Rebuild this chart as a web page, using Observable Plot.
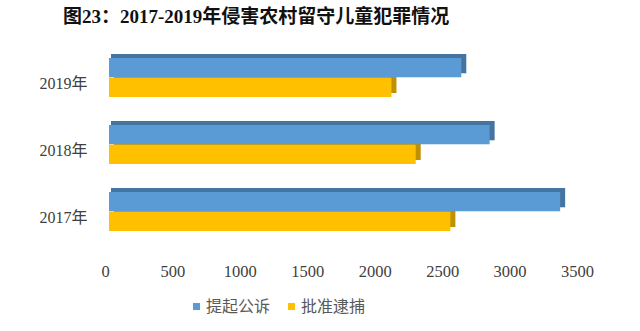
<!DOCTYPE html>
<html>
<head>
<meta charset="utf-8">
<script src="https://cdn.jsdelivr.net/npm/d3@7"></script>
<script src="https://cdn.jsdelivr.net/npm/@observablehq/plot@0.6"></script>
<style>
  html, body { margin: 0; padding: 0; background: #fff; }
  #wrap { width: 640px; height: 331px; position: relative; overflow: hidden; }
  #title { height: 36px; line-height: 34px; padding-left: 63px; font-family: "Liberation Serif", "Noto Sans CJK SC", serif; font-weight: bold; font-size: 19px; color: #111; white-space: nowrap; }
  #legend { position: absolute; top: 297px; left: 0; width: 640px; text-align: left; font-family: "Liberation Serif", "Noto Sans CJK SC", serif; font-size: 16px; color: #595959; }
  .item { position: absolute; top: 0; white-space: nowrap; line-height: 20px; }
  .sw { display: inline-block; width: 7px; height: 7px; margin-right: 6px; vertical-align: 2px; }
</style>
</head>
<body>
<div id="wrap">
  <div id="title">图23：2017-2019年侵害农村留守儿童犯罪情况</div>
  <div id="chart"></div>
  <div id="legend"></div>
</div>
<script>
const years = ["2019", "2018", "2017"];
const yearLabels = ["2019年", "2018年", "2017年"];
const seriesNames = ["提起公诉", "批准逮捕"];
const prosecuted = [2642, 2852, 3375];   // 提起公诉
const arrested = [2124, 2304, 2561];     // 批准逮捕
const xTicks = [0, 500, 1000, 1500, 2000, 2500, 3000, 3500];

const colors = { front: ["#5B9BD5", "#FFC000"], side: ["#44749F", "#BF9000"] };

const blue = years.map((y, i) => ({ year: y, value: prosecuted[i] }));
const yellow = years.map((y, i) => ({ year: y, value: arrested[i] }));
const labelOf = d => yearLabels[years.indexOf(d)];

const H = 260, mt = 13.5, mb = 57.5;
const half = ((H - mt - mb) / 2.78) * (1 - 0.42) / 2;

const chart = Plot.plot({
  width: 640,
  height: H,
  marginLeft: 105,
  marginRight: 63,
  marginTop: mt,
  marginBottom: mb,
  x: { domain: [0, 3500] },
  y: { domain: years, paddingInner: 0.42, paddingOuter: 0.1 },
  style: { fontFamily: "'Liberation Serif', 'Noto Sans CJK SC', serif", fontSize: "16px", color: "#404040", background: "white" },
  marks: [
    Plot.barX(blue, { x: "value", y: "year", fill: colors.side[0], insetLeft: 1, insetBottom: half, dx: 5, dy: -4 }),
    Plot.barX(yellow, { x: "value", y: "year", fill: colors.side[1], insetLeft: 4, insetTop: half, dx: 5, dy: -4 }),
    Plot.barX(blue, { x: "value", y: "year", fill: colors.front[0], insetLeft: 4, insetBottom: half }),
    Plot.barX(yellow, { x: "value", y: "year", fill: colors.front[1], insetLeft: 4, insetTop: half }),
    Plot.axisX({ ticks: xTicks, tickFormat: d => String(d), tickSize: 0, tickPadding: 26, label: null, fontSize: 16.5, fill: "#404040" }),
    Plot.axisY({ tickSize: 0, tickPadding: 18, tickFormat: labelOf, label: null, dy: 6, fontSize: 16, fill: "#404040" })
  ]
});
document.getElementById("chart").appendChild(chart);

const legend = document.getElementById("legend");
const lx = [193, 288];
seriesNames.forEach((name, i) => {
  const el = document.createElement("div");
  el.className = "item";
  el.style.left = lx[i] + "px";
  el.innerHTML = `<span class="sw" style="background:${colors.front[i]}"></span>${name}`;
  legend.appendChild(el);
});
</script>
</body>
</html>
